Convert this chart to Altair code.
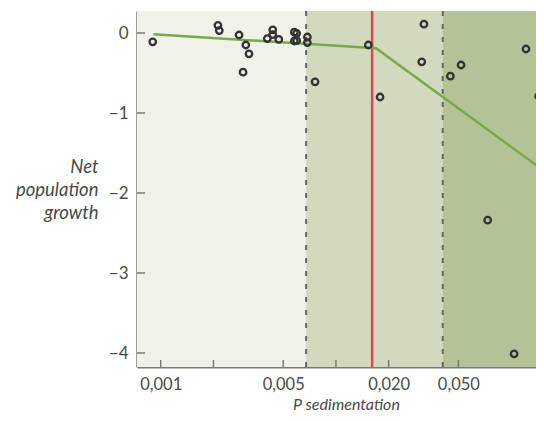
import altair as alt
import pandas as pd

# ---- data ----
p_sed = [0.00090, 0.00212, 0.00216, 0.00280, 0.00306, 0.00319, 0.00295,
         0.00406, 0.00436, 0.00436, 0.00472, 0.00579, 0.00597, 0.00579, 0.00597,
         0.00687, 0.00687, 0.00760, 0.0153, 0.01786, 0.0318, 0.0309,
         0.0450, 0.0518, 0.1216, 0.1438, 0.0735, 0.104]
growth = [-0.11, 0.096, 0.03, -0.025, -0.15, -0.26, -0.49,
          -0.07, 0.04, -0.02, -0.08, 0.01, -0.004, -0.10, -0.096,
          -0.05, -0.12, -0.61, -0.15, -0.80, 0.11, -0.36,
          -0.54, -0.40, -0.20, -0.79, -2.34, -4.01]

fit_x = [0.00091, 0.01694, 0.1449]
fit_y = [-0.016, -0.19, -1.68]

X_DOMAIN = [0.000732, 0.1387]
Y_DOMAIN = [-4.175, 0.275]

band_start = [X_DOMAIN[0], 0.00676, 0.0407]
band_end = [0.00676, 0.0407, X_DOMAIN[1]]
band_color = ["#eff2e8", "#d1dabd", "#b3c397"]

dashed_x = [0.00676, 0.0407]
red_x = [0.0161]

x_labels = [0.001, 0.005, 0.02, 0.05]
x_ticks = [0.001, 0.002, 0.005, 0.01, 0.02, 0.05]
y_ticks = [0, -1, -2, -3, -4]

W, H = 399, 356
FONT = "Lato"
TXT = "#4a4a4a"
AX = "#7a7a7a"

pts = pd.DataFrame({"x": p_sed, "y": growth})
fit = pd.DataFrame({"x": fit_x, "y": fit_y})
bands = pd.DataFrame({"x": band_start, "x2": band_end, "c": band_color})
dashed = pd.DataFrame({"x": dashed_x})
red = pd.DataFrame({"x": red_x})
xt = pd.DataFrame({"x": x_ticks})
yt = pd.DataFrame({"y": y_ticks})

xscale = alt.Scale(type="log", domain=X_DOMAIN, nice=False)
yscale = alt.Scale(domain=Y_DOMAIN, nice=False, zero=False)

xaxis = alt.Axis(values=x_labels, tickSize=0,
                 labelExpr="replace(format(datum.value, '.3f'), '.', ',')",
                 labelPadding=9, labelFontSize=16.5, labelColor=TXT, labelFont=FONT,
                 domainColor=AX, domainWidth=2, grid=False,
                 titleFontStyle="italic", titleFontWeight="normal", titleFontSize=16,
                 titleColor=TXT, titleFont=FONT, titleBaseline="alphabetic",
                 titleY=42.4, titleX=209, titleAlign="center")
yaxis = alt.Axis(values=y_ticks, tickSize=0, labelPadding=9, labelFontSize=17,
                 labelColor=TXT, labelFont=FONT,
                 domainColor=AX, domainWidth=2.5, grid=False,
                 titleFontStyle="italic", titleFontWeight="normal", titleFontSize=18.5,
                 titleColor=TXT, titleFont=FONT, titleAngle=0, titleAlign="right",
                 titleBaseline="alphabetic", titleX=-39, titleY=161, titleLineHeight=23.3)

YT = ["Net", "population", "growth"]


def X(field="x"):
    return alt.X(f"{field}:Q", scale=xscale, axis=xaxis, title="P sedimentation")


def Y(field="y"):
    return alt.Y(f"{field}:Q", scale=yscale, axis=yaxis, title=YT)


band_layer = alt.Chart(bands).mark_rect().encode(
    x=X("x"), x2="x2:Q", y=alt.value(0), y2=alt.value(H),
    color=alt.Color("c:N", scale=None))

dash_layer = alt.Chart(dashed).mark_rule(color="#666666", strokeWidth=2,
                                         strokeDash=[5, 8]).encode(
    x=X("x"), y=alt.value(0), y2=alt.value(H))

red_layer = alt.Chart(red).mark_rule(color="#d9485a", strokeWidth=2.5).encode(
    x=X("x"), y=alt.value(0), y2=alt.value(H))

fit_layer = alt.Chart(fit).mark_line(color="#7aa84a", strokeWidth=2.5).encode(
    x=X("x"), y=Y("y"))

pt_layer = alt.Chart(pts).mark_point(filled=False, color="#333333", strokeWidth=2.3,
                                     size=42, opacity=1).encode(
    x=X("x"), y=Y("y"))

xtick_layer = alt.Chart(xt).mark_rule(color=AX, strokeWidth=1.5).encode(
    x=X("x"), y=alt.value(H - 7), y2=alt.value(H))

ytick_layer = alt.Chart(yt).mark_rule(color=AX, strokeWidth=1.5).encode(
    y=Y("y"), x=alt.value(0), x2=alt.value(8))

chart = alt.layer(band_layer, dash_layer, red_layer, fit_layer, pt_layer,
                  xtick_layer, ytick_layer).properties(
    width=W, height=H,
    autosize=alt.AutoSizeParams(type="none"),
    padding={"left": 129, "top": 3, "right": 0, "bottom": 46},
).configure_view(stroke=None).configure(font=FONT, background="white")

chart.save("out.html", embed_options={"renderer": "svg", "actions": False})
